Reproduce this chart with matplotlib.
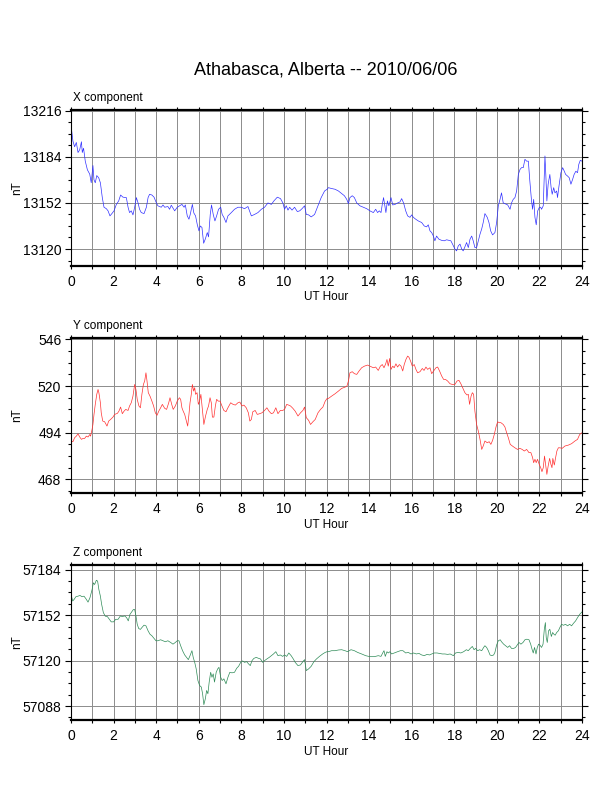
import matplotlib
matplotlib.use('Agg')
import matplotlib.pyplot as plt
import matplotlib.transforms as mtransforms
from matplotlib.ticker import MultipleLocator, FormatStrFormatter

title = 'Athabasca, Alberta -- 2010/06/06'

# X component (nT) vs UT hour
x_hour = [0.00, 0.09, 0.17, 0.25, 0.33, 0.41, 0.49, 0.53, 0.59, 0.67, 0.77, 0.88, 0.95, 1.03, 1.08, 1.14,
          1.21, 1.30, 1.38, 1.47, 1.55, 1.66, 1.74, 1.83, 1.92, 2.02, 2.13, 2.24, 2.33, 2.44, 2.60, 2.68,
          2.75, 2.83, 2.91, 2.99, 3.07, 3.15, 3.22, 3.30, 3.43, 3.54, 3.62, 3.69, 3.80, 3.90, 4.01, 4.08,
          4.24, 4.32, 4.40, 4.55, 4.63, 4.71, 4.87, 4.99, 5.10, 5.21, 5.31, 5.37, 5.46, 5.54, 5.60, 5.70,
          5.77, 5.85, 5.93, 6.01, 6.07, 6.15, 6.23, 6.31, 6.40, 6.46, 6.54, 6.60, 6.68, 6.76, 6.84, 6.93,
          7.03, 7.10, 7.18, 7.28, 7.37, 7.53, 7.68, 7.84, 8.00, 8.15, 8.31, 8.47, 8.62, 8.78, 8.94, 9.09,
          9.25, 9.41, 9.53, 9.69, 9.84, 9.95, 10.03, 10.11, 10.19, 10.27, 10.38, 10.50, 10.63, 10.74, 10.85,
          10.97, 11.05, 11.16, 11.28, 11.44, 11.60, 11.75, 11.91, 12.03,
          12.09, 12.24, 12.40, 12.56, 12.71, 12.84, 12.95, 13.03, 13.10, 13.21, 13.31, 13.42, 13.57, 13.73,
          13.89, 14.04, 14.20, 14.31, 14.40, 14.48, 14.56, 14.62, 14.68, 14.75, 14.79, 14.86, 14.93, 15.03,
          15.11, 15.22, 15.34, 15.45, 15.53, 15.62, 15.72, 15.81, 15.92, 16.00, 16.08, 16.19, 16.31, 16.47,
          16.59, 16.70, 16.78, 16.86, 16.94, 17.02, 17.09, 17.17, 17.28, 17.41, 17.53, 17.64, 17.75, 17.84,
          17.92, 18.03, 18.11, 18.19, 18.27, 18.35, 18.42, 18.50, 18.58, 18.66, 18.74, 18.82, 18.89, 18.97,
          19.05, 19.13, 19.21, 19.29, 19.36, 19.44, 19.55, 19.63, 19.71, 19.80, 19.91, 19.99, 20.07, 20.15,
          20.22, 20.30, 20.38, 20.51, 20.62, 20.69, 20.77, 20.85, 20.93, 21.01, 21.09, 21.16, 21.24, 21.32,
          21.40, 21.48, 21.55, 21.63, 21.68, 21.73, 21.79, 21.85, 21.92, 22.00, 22.06, 22.10, 22.18, 22.23,
          22.26, 22.30, 22.35, 22.41, 22.49, 22.55, 22.60, 22.67, 22.73, 22.81, 22.85, 22.92, 23.01, 23.09,
          23.17, 23.23, 23.32, 23.40, 23.48, 23.56, 23.63, 23.71, 23.79, 23.85, 23.92, 24.00]
x_nt = [13206.0, 13195.0, 13191.0, 13194.0, 13187.0, 13189.0, 13194.5, 13187.0, 13190.0, 13181.0, 13175.0,
        13172.0, 13166.0, 13178.0, 13168.0, 13166.0, 13171.0, 13169.5, 13166.0, 13155.7, 13149.0, 13148.0,
        13146.5, 13143.0, 13144.6, 13146.5, 13151.0, 13153.4, 13157.5, 13156.0, 13155.7, 13149.0, 13145.3,
        13146.5, 13143.7, 13149.0, 13155.7, 13152.0, 13147.6, 13145.3, 13144.6, 13149.0, 13155.7, 13158.0,
        13157.5, 13156.0, 13152.0, 13150.0, 13149.0, 13150.6, 13149.0, 13149.5, 13147.6, 13150.4, 13146.5,
        13149.0, 13150.0, 13151.0, 13149.0, 13150.6, 13143.0, 13140.7, 13144.0, 13151.0, 13145.0, 13143.0,
        13137.0, 13132.6, 13136.0, 13135.0, 13124.0, 13127.0, 13131.4, 13128.4, 13144.0, 13150.6, 13144.0,
        13139.5, 13143.0, 13147.6, 13149.0, 13144.0, 13142.0, 13138.4, 13143.0, 13145.3, 13147.6, 13149.0,
        13149.0, 13148.0, 13149.5, 13143.0, 13144.0, 13145.3, 13147.6, 13149.0, 13152.0, 13151.0, 13153.4,
        13156.0, 13155.0, 13152.0, 13147.6, 13150.0, 13147.0, 13149.0, 13147.0, 13149.0, 13146.0, 13146.5,
        13148.0, 13150.0, 13144.0, 13143.7, 13142.3, 13144.0, 13150.0, 13155.7, 13160.3, 13161.5,
        13162.6, 13162.0, 13161.5, 13160.3, 13158.5, 13157.0, 13154.5, 13151.5, 13155.7, 13157.0, 13155.7,
        13152.0, 13150.0, 13149.0, 13148.0, 13146.5, 13145.3, 13147.6, 13145.3, 13146.5, 13145.3, 13151.0,
        13155.7, 13149.0, 13145.3, 13153.4, 13150.0, 13155.7, 13150.6, 13151.0, 13152.0, 13152.7, 13155.0,
        13152.0, 13146.5, 13143.0, 13142.0, 13143.7, 13142.0, 13140.7, 13139.5, 13138.4, 13136.0, 13135.4,
        13136.8, 13132.6, 13131.4, 13129.0, 13125.7, 13129.0, 13126.8, 13126.0, 13125.7, 13126.4, 13126.0,
        13125.7, 13123.4, 13120.0, 13118.7, 13122.2, 13123.4, 13120.0, 13118.7, 13121.5, 13124.5, 13121.0,
        13126.8, 13129.0, 13125.7, 13121.0, 13121.0, 13125.7, 13130.3, 13134.0, 13138.4, 13144.6, 13142.0,
        13138.4, 13132.6, 13129.8, 13131.4, 13138.4, 13150.0, 13154.5, 13159.0, 13152.0, 13151.5, 13150.6,
        13147.6, 13152.0, 13154.5, 13155.7, 13160.3, 13171.8, 13175.3, 13176.5, 13176.5, 13182.3, 13181.0,
        13181.0, 13167.2, 13153.4, 13147.6, 13154.5, 13142.0, 13136.8, 13146.5, 13149.0, 13149.0, 13147.6,
        13150.0, 13171.8, 13184.6, 13171.8, 13153.4, 13165.0, 13171.8, 13162.6, 13158.0, 13162.6, 13159.0,
        13160.3, 13155.7, 13163.8, 13173.0, 13176.5, 13174.0, 13171.8, 13170.7, 13169.5, 13165.0, 13168.4,
        13171.8, 13174.0, 13173.0, 13178.8, 13181.6, 13181.0]

# Y component (nT)
y_hour = [0.00, 0.09, 0.17, 0.25, 0.33, 0.41, 0.49, 0.56, 0.64, 0.72, 0.80, 0.88, 0.92, 0.99, 1.03, 1.08,
          1.14, 1.21, 1.27, 1.31, 1.38, 1.42, 1.49, 1.58, 1.69, 1.77, 1.86, 1.97, 2.05, 2.18, 2.25, 2.33,
          2.41, 2.49, 2.57, 2.68, 2.75, 2.83, 2.91, 2.99, 3.05, 3.11, 3.19, 3.26, 3.33, 3.40, 3.46, 3.52,
          3.57, 3.63, 3.71, 3.80, 3.88, 3.96, 4.04, 4.12, 4.21, 4.29, 4.40, 4.49, 4.59, 4.65, 4.73, 4.80,
          4.90, 4.99, 5.09, 5.15, 5.21, 5.27, 5.34, 5.41, 5.48, 5.54, 5.59, 5.65, 5.70, 5.76, 5.81, 5.85,
          5.92, 5.98, 6.04, 6.10, 6.17, 6.24, 6.32, 6.40, 6.46, 6.53, 6.59, 6.64, 6.71, 6.78, 6.84, 6.92,
          7.00, 7.09, 7.18, 7.28, 7.37, 7.50, 7.61, 7.72, 7.84, 7.93, 8.03, 8.12, 8.23, 8.33, 8.40, 8.47,
          8.54, 8.65, 8.75, 8.86, 8.97, 9.09, 9.20, 9.30, 9.41, 9.51, 9.62, 9.72, 9.83, 9.94, 10.03, 10.13,
          10.22, 10.31, 10.42, 10.53, 10.66, 10.78, 10.89, 10.97, 11.05, 11.16, 11.25, 11.36, 11.47, 11.60,
          11.72, 11.83, 11.94, 12.03,
          12.09, 12.24, 12.40, 12.56, 12.71, 12.87, 12.96, 13.03, 13.10, 13.21, 13.31, 13.42, 13.53, 13.65,
          13.78, 13.93, 14.04, 14.20, 14.31, 14.43, 14.53, 14.62, 14.70, 14.78, 14.84, 14.90, 14.97, 15.03,
          15.11, 15.18, 15.26, 15.34, 15.42, 15.50, 15.58, 15.65, 15.73, 15.81, 15.87, 15.95, 16.03, 16.12,
          16.20, 16.28, 16.39, 16.50, 16.58, 16.67, 16.75, 16.86, 16.94, 17.03, 17.14, 17.22, 17.31, 17.41,
          17.50, 17.59, 17.69, 17.80, 17.91, 18.03, 18.13, 18.22, 18.31, 18.41, 18.50, 18.60, 18.66, 18.72,
          18.79, 18.85, 18.91, 18.97, 19.05, 19.13, 19.21, 19.29, 19.36, 19.44, 19.55, 19.64, 19.72, 19.80,
          19.88, 19.96, 20.04, 20.11, 20.19, 20.30, 20.38, 20.46, 20.54, 20.63, 20.73, 20.85, 20.97, 21.08,
          21.19, 21.29, 21.40, 21.51, 21.60, 21.68, 21.73, 21.79, 21.85, 21.91, 21.99, 22.06, 22.12, 22.18,
          22.24, 22.29, 22.35, 22.41, 22.48, 22.54, 22.59, 22.63, 22.70, 22.76, 22.82, 22.89, 22.96, 23.07,
          23.20, 23.36, 23.51, 23.67, 23.79, 23.89, 24.00]
y_nt = [489.4, 489.0, 491.2, 492.1, 493.4, 491.6, 490.3, 490.8, 490.8, 492.1, 491.6, 493.0, 492.1, 495.9,
        498.6, 504.2, 509.8, 515.4, 518.1, 516.3, 510.7, 505.1, 500.5, 500.1, 497.7, 500.5, 501.4, 502.7,
        504.2, 504.8, 506.0, 508.3, 504.6, 506.0, 507.0, 506.4, 508.9, 510.7, 514.4, 520.9, 518.1, 512.6,
        508.9, 507.9, 515.4, 520.9, 522.8, 527.4, 522.8, 516.3, 514.4, 511.6, 508.9, 505.1, 503.7, 506.0,
        507.9, 509.8, 507.6, 507.0, 510.7, 513.5, 509.8, 507.0, 508.9, 511.6, 513.5, 512.6, 507.9, 506.0,
        504.2, 500.9, 497.7, 504.2, 510.7, 515.4, 520.9, 517.2, 519.1, 515.4, 516.3, 509.8, 511.6, 515.4,
        507.0, 498.6, 503.3, 507.0, 508.9, 513.5, 510.7, 502.7, 502.7, 508.9, 512.6, 511.6, 511.6, 508.9,
        506.4, 505.7, 507.9, 510.7, 509.8, 509.4, 510.7, 511.1, 508.9, 509.4, 507.9, 505.1, 500.5, 501.4,
        505.7, 506.4, 504.2, 504.6, 505.1, 506.4, 507.9, 506.0, 504.6, 505.1, 507.9, 504.6, 506.4, 506.4,
        507.0, 509.8, 509.4, 508.9, 507.6, 506.0, 503.3, 505.1, 506.4, 508.3, 502.4, 500.9, 498.6, 500.1,
        501.4, 505.1, 507.0, 508.3, 511.6, 513.1,
        513.1, 514.4, 515.7, 517.2, 518.7, 519.4, 520.0, 522.8, 527.4, 528.0, 526.9, 526.5, 528.4, 530.2,
        531.1, 531.7, 531.1, 530.2, 530.6, 528.7, 531.1, 532.0, 530.2, 532.4, 534.8, 531.1, 535.4, 529.3,
        531.1, 530.2, 532.4, 530.6, 532.0, 531.1, 528.4, 532.0, 534.8, 536.7, 536.1, 533.9, 531.1, 532.0,
        529.3, 527.4, 528.0, 529.8, 528.7, 530.6, 529.3, 530.2, 526.9, 528.4, 530.2, 530.6, 528.4, 525.6,
        523.7, 523.7, 522.8, 521.3, 520.9, 520.9, 522.8, 523.2, 521.3, 518.7, 516.3, 515.0, 515.4, 509.8,
        514.4, 516.3, 515.4, 506.0, 498.6, 494.9, 490.3, 484.7, 486.6, 489.4, 488.4, 489.0, 487.5, 489.7,
        493.0, 497.2, 500.1, 499.6, 499.6, 498.6, 497.2, 494.0, 491.2, 487.5, 486.6, 485.6, 484.7, 485.3,
        484.7, 483.8, 484.7, 482.9, 482.9, 480.1, 477.3, 479.2, 477.3, 479.2, 476.4, 474.5, 472.3, 474.5,
        481.0, 476.4, 470.8, 475.4, 479.7, 476.4, 474.5, 479.7, 476.0, 480.1, 483.8, 485.6, 485.6, 485.3,
        486.6, 487.1, 487.9, 489.4, 490.3, 493.0, 494.0]

# Z component (nT)
z_hour = [0.00, 0.08, 0.14, 0.23, 0.33, 0.42, 0.52, 0.61, 0.70, 0.80, 0.89, 0.99, 1.05, 1.11, 1.19, 1.25,
          1.31, 1.38, 1.44, 1.52, 1.61, 1.71, 1.80, 1.89, 2.00, 2.10, 2.21, 2.32, 2.41, 2.52, 2.61, 2.69,
          2.77, 2.85, 2.93, 2.99, 3.05, 3.11, 3.18, 3.26, 3.33, 3.43, 3.52, 3.62, 3.71, 3.80, 3.90, 3.99,
          4.08, 4.21, 4.32, 4.43, 4.55, 4.68, 4.79, 4.90, 4.99, 5.07, 5.15, 5.24, 5.34, 5.43, 5.51, 5.59,
          5.68, 5.74, 5.81, 5.88, 5.96, 6.04, 6.12, 6.18, 6.24, 6.31, 6.37, 6.43, 6.49, 6.56, 6.62, 6.68,
          6.74, 6.82, 6.89, 6.95, 7.03, 7.10, 7.18, 7.28, 7.37, 7.46, 7.56, 7.68, 7.78, 7.87, 7.97, 8.06,
          8.15, 8.25, 8.34, 8.42, 8.50, 8.59, 8.70, 8.81, 8.90, 9.00, 9.09, 9.20, 9.31, 9.41, 9.51, 9.62,
          9.72, 9.83, 9.94, 10.03, 10.13, 10.23, 10.34, 10.44, 10.53, 10.66, 10.78, 10.89, 10.97, 11.05,
          11.16, 11.28, 11.41, 11.53, 11.67, 11.82, 11.94, 12.03,
          12.09, 12.24, 12.40, 12.56, 12.71, 12.87, 12.99, 13.15, 13.31, 13.46, 13.65, 13.84, 14.04, 14.25,
          14.43, 14.56, 14.64, 14.70, 14.76, 14.84, 14.90, 14.98, 15.06, 15.18, 15.34, 15.47, 15.59, 15.72,
          15.84, 15.97, 16.09, 16.22, 16.34, 16.47, 16.59, 16.72, 16.84, 16.94, 17.06, 17.19, 17.31, 17.44,
          17.56, 17.69, 17.81, 17.96, 18.06, 18.19, 18.31, 18.44, 18.57, 18.66, 18.75, 18.85, 18.93, 19.00,
          19.10, 19.19, 19.29, 19.38, 19.44, 19.52, 19.60, 19.68, 19.76, 19.85, 19.91, 19.99, 20.07, 20.16,
          20.22, 20.32, 20.41, 20.51, 20.60, 20.69, 20.79, 20.88, 20.96, 21.04, 21.13, 21.23, 21.32, 21.41,
          21.51, 21.59, 21.65, 21.71, 21.77, 21.84, 21.90, 21.96, 22.02, 22.10, 22.17, 22.23, 22.28, 22.32,
          22.37, 22.43, 22.49, 22.56, 22.62, 22.68, 22.74, 22.81, 22.89, 22.96, 23.04, 23.13, 23.23, 23.32,
          23.42, 23.51, 23.60, 23.70, 23.79, 23.89, 24.00]
z_nt = [57166.6, 57162.0, 57163.0, 57165.0, 57165.4, 57165.9, 57165.0, 57165.4, 57163.6, 57161.2, 57164.3,
        57170.0, 57174.8, 57173.6, 57176.6, 57176.0, 57170.0, 57165.4, 57159.6, 57153.8, 57151.3, 57151.0,
        57149.1, 57147.3, 57147.3, 57149.1, 57149.1, 57151.5, 57151.0, 57151.5, 57150.3, 57148.0, 57152.6,
        57154.3, 57156.0, 57156.0, 57151.5, 57145.6, 57142.6, 57142.0, 57143.3, 57145.0, 57144.5, 57141.0,
        57138.6, 57137.5, 57135.6, 57134.0, 57134.0, 57134.7, 57134.0, 57133.3, 57134.0, 57132.8, 57131.6,
        57132.8, 57134.0, 57134.0, 57130.5, 57127.0, 57124.0, 57122.3, 57120.7, 57123.5, 57127.0, 57122.3,
        57118.8, 57114.2, 57106.0, 57102.5, 57101.4, 57096.7, 57089.0, 57093.2, 57099.0, 57096.7, 57104.9,
        57111.8, 57108.3, 57110.7, 57104.9, 57111.8, 57114.2, 57115.3, 57108.3, 57106.0, 57107.2, 57103.7,
        57108.3, 57111.8, 57111.4, 57111.8, 57114.6, 57116.0, 57118.8, 57119.8, 57118.8, 57119.3, 57117.7,
        57116.5, 57120.0, 57121.6, 57122.3, 57121.6, 57121.2, 57118.8, 57120.0, 57121.2, 57122.3, 57123.5,
        57124.7, 57126.3, 57123.5, 57124.0, 57123.0, 57124.0, 57123.0, 57125.4, 57123.5, 57121.2, 57118.8,
        57116.5, 57117.0, 57119.3, 57120.7, 57113.0, 57114.2, 57116.0, 57119.3, 57121.2, 57123.0, 57124.7,
        57125.8, 57126.3,
        57126.3, 57127.0, 57127.0, 57127.5, 57127.7, 57127.0, 57126.3, 57127.7, 57127.0, 57125.8, 57124.7,
        57123.5, 57122.8, 57122.8, 57123.5, 57123.0, 57125.4, 57127.0, 57123.0, 57126.3, 57125.4, 57126.3,
        57124.7, 57125.4, 57126.3, 57127.0, 57127.0, 57125.4, 57125.8, 57124.7, 57125.4, 57124.7, 57125.1,
        57124.0, 57123.5, 57124.4, 57124.0, 57124.7, 57125.4, 57125.4, 57125.1, 57124.7, 57124.7, 57124.4,
        57124.7, 57123.5, 57125.4, 57125.8, 57125.4, 57126.3, 57127.7, 57127.0, 57128.6, 57130.0, 57127.7,
        57128.6, 57127.0, 57127.7, 57127.0, 57129.3, 57130.5, 57129.3, 57127.0, 57124.0, 57123.5, 57124.0,
        57125.8, 57131.0, 57134.0, 57134.7, 57133.3, 57131.6, 57130.5, 57129.3, 57130.5, 57128.6, 57128.6,
        57129.3, 57131.0, 57132.8, 57131.6, 57132.8, 57134.7, 57135.1, 57134.7, 57131.6, 57128.2, 57125.4,
        57129.3, 57124.7, 57129.3, 57131.6, 57131.0, 57129.3, 57131.6, 57142.1, 57146.8, 57136.3, 57132.8,
        57141.0, 57142.1, 57137.0, 57139.8, 57138.6, 57137.9, 57139.8, 57141.0, 57143.3, 57145.6, 57144.9,
        57145.6, 57144.5, 57145.6, 57144.5, 57146.3, 57148.0, 57150.3, 57152.6, 57154.3]

panels = [
    ('X component', x_hour, x_nt, '#3030ff', (13108.4, 13216.2), 32, 8),
    ('Y component', y_hour, y_nt, '#ff3030', (460.4, 546.9), 26, 6.5),
    ('Z component', z_hour, z_nt, '#2e8b57', (57078.2, 57187.5), 32, 8),
]


def draw_panel(fig, ax, name, hours, values, color, ylim, major, minor):
    ax.plot(hours, values, color=color, lw=0.5)
    ax.set_xlim(0, 24)
    ax.set_ylim(*ylim)

    ax.xaxis.set_major_locator(MultipleLocator(2))
    ax.xaxis.set_minor_locator(MultipleLocator(1))
    ax.yaxis.set_major_locator(MultipleLocator(major))
    ax.yaxis.set_minor_locator(MultipleLocator(minor))
    ax.yaxis.set_major_formatter(FormatStrFormatter('%d'))

    ax.grid(True, which='both', axis='x', color='#8c8c8c', lw=0.7)
    ax.grid(True, which='major', axis='y', color='#8c8c8c', lw=0.7)

    ax.tick_params(axis='x', which='both', direction='out', length=2.5, width=0.8,
                   top=True, bottom=True, labelsize=10, pad=4)
    ax.tick_params(axis='y', which='major', direction='out', length=4, width=0.8,
                   left=True, right=True, labelsize=10, pad=3)
    ax.tick_params(axis='y', which='minor', direction='out', length=2, width=0.8,
                   left=True, right=True)

    for side in ['top', 'bottom']:
        ax.spines[side].set_linewidth(1.6)
    for side in ['left', 'right']:
        ax.spines[side].set_linewidth(0.8)

    ax.set_xlabel('UT Hour', fontsize=8.5)
    ax.xaxis.set_label_coords(0.5, -0.165)
    ax.set_ylabel('nT', fontsize=8.5)
    ax.yaxis.set_label_coords(-0.094, 0.5)

    trans = mtransforms.offset_copy(ax.transAxes, fig=fig, x=2, y=9, units='dots')
    ax.text(0, 1, name, transform=trans, fontsize=8.5, ha='left', va='baseline')


def main():
    plt.rcParams['font.family'] = ['Liberation Sans', 'DejaVu Sans']

    fig = plt.figure(figsize=(6.12, 7.92), dpi=100)
    fig.text(0.533, 0.912, title, fontsize=13, ha='center', va='center')

    bottoms = [0.6645, 0.3775, 0.0909]
    for (name, hours, values, color, ylim, major, minor), bottom in zip(panels, bottoms):
        ax = fig.add_axes([71 / 612, bottom, 511 / 612, 0.196])
        draw_panel(fig, ax, name, hours, values, color, ylim, major, minor)

    fig.savefig('out.png', dpi=100)


if __name__ == '__main__':
    main()
